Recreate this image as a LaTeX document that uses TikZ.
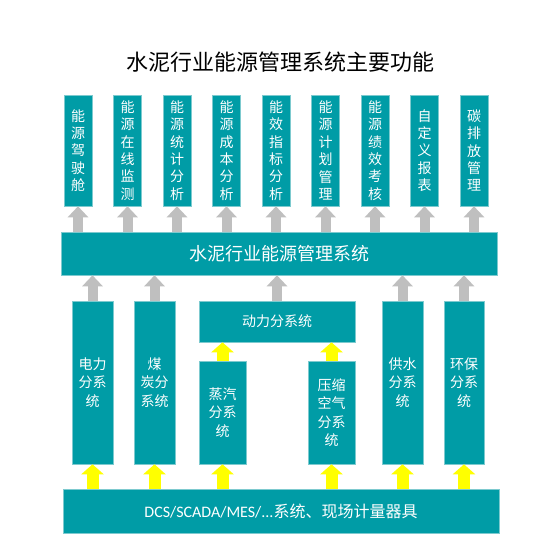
\documentclass[tikz,border=0pt]{standalone}
\usepackage{fontspec}
\setmainfont{Noto Sans CJK SC}
\newfontfamily\latinf{Carlito}
\usetikzlibrary{arrows.meta}
\definecolor{tealbox}{RGB}{0,156,166}
\definecolor{tealedge}{RGB}{125,202,207}
\definecolor{arrgray}{RGB}{191,191,191}
\definecolor{arryel}{RGB}{255,255,0}
\begin{document}
\begin{tikzpicture}[x=1pt,y=-1pt,
 box/.style={draw=tealedge, line width=0.6pt, fill=tealbox, text=white, inner sep=0pt, align=center, font=\fontsize{14}{17.4}\selectfont},
 topbox/.style={box, minimum width=28pt, minimum height=111pt},
 subbox/.style={box, font=\fontsize{14}{18.3}\selectfont},
 garrow/.style={draw=arrgray, line width=10pt, -{Triangle[width=20pt,length=11pt]}},
 yarrow/.style={draw=arryel, line width=12pt, -{Triangle[width=22pt,length=10pt]}}]
\useasboundingbox[fill=white] (0,0) rectangle (560,560);
\node[font=\fontsize{22}{26}\selectfont] (title) at (280,62) {水泥行业能源管理系统主要功能};
% top function boxes
\node[topbox] (f1) at (78,150.5) {能\\源\\驾\\驶\\舱};
\node[topbox] (f2) at (127.5,150.5) {能\\源\\在\\线\\监\\测};
\node[topbox] (f3) at (177,150.5) {能\\源\\统\\计\\分\\析};
\node[topbox] (f4) at (226.5,150.5) {能\\源\\成\\本\\分\\析};
\node[topbox] (f5) at (276,150.5) {能\\效\\指\\标\\分\\析};
\node[topbox] (f6) at (325.5,150.5) {能\\源\\计\\划\\管\\理};
\node[topbox] (f7) at (375,150.5) {能\\源\\绩\\效\\考\\核};
\node[topbox] (f8) at (424.5,150.5) {自\\定\\义\\报\\表};
\node[topbox] (f9) at (474,150.5) {碳\\排\\放\\管\\理};
% middle system bar
\node[box, minimum width=436pt, minimum height=43pt, font=\fontsize{18}{20}\selectfont] (sys) at (279,253.5) {水泥行业能源管理系统};
% subsystems
\node[subbox, minimum width=41pt, minimum height=163pt] (dl) at (92.5,382.5) {电力\\分系\\统};
\node[subbox, minimum width=41pt, minimum height=163pt] (mt) at (154.5,382.5) {煤\\炭分\\系统};
\node[subbox, minimum width=156pt, minimum height=41pt] (dong) at (277,321.5) {动力分系统};
\node[subbox, minimum width=47pt, minimum height=103pt] (zq) at (222.5,412.5) {蒸汽\\分系\\统};
\node[subbox, minimum width=47pt, minimum height=103pt] (ys) at (331.5,412.5) {压缩\\空气\\分系\\统};
\node[subbox, minimum width=41pt, minimum height=163pt] (gs) at (402.5,382.5) {供水\\分系\\统};
\node[subbox, minimum width=40pt, minimum height=163pt] (hb) at (464,382.5) {环保\\分系\\统};
% bottom bar
\node[box, minimum width=436pt, minimum height=44pt, font=\fontsize{16}{18}\selectfont] (bot) at (281,511) {{\latinf DCS/SCADA/MES/...}系统、现场计量器具};
% gray arrows to top boxes
\foreach \i in {1,...,9} {
  \draw[garrow] (sys.north -| f\i) -- (f\i.south);
}
% gray arrows from subsystems to system bar
\foreach \n in {dl,mt,dong,gs,hb} {
  \draw[garrow] (\n.north) -- (\n.north |- sys.south);
}
% yellow arrows from bottom bar
\foreach \n in {dl,mt,zq,ys,gs,hb} {
  \draw[yarrow] (bot.north -| \n) -- (\n.south);
}
\foreach \n in {zq,ys} {
  \draw[yarrow] (\n.north) -- (\n.north |- dong.south);
}
\end{tikzpicture}
\end{document}
